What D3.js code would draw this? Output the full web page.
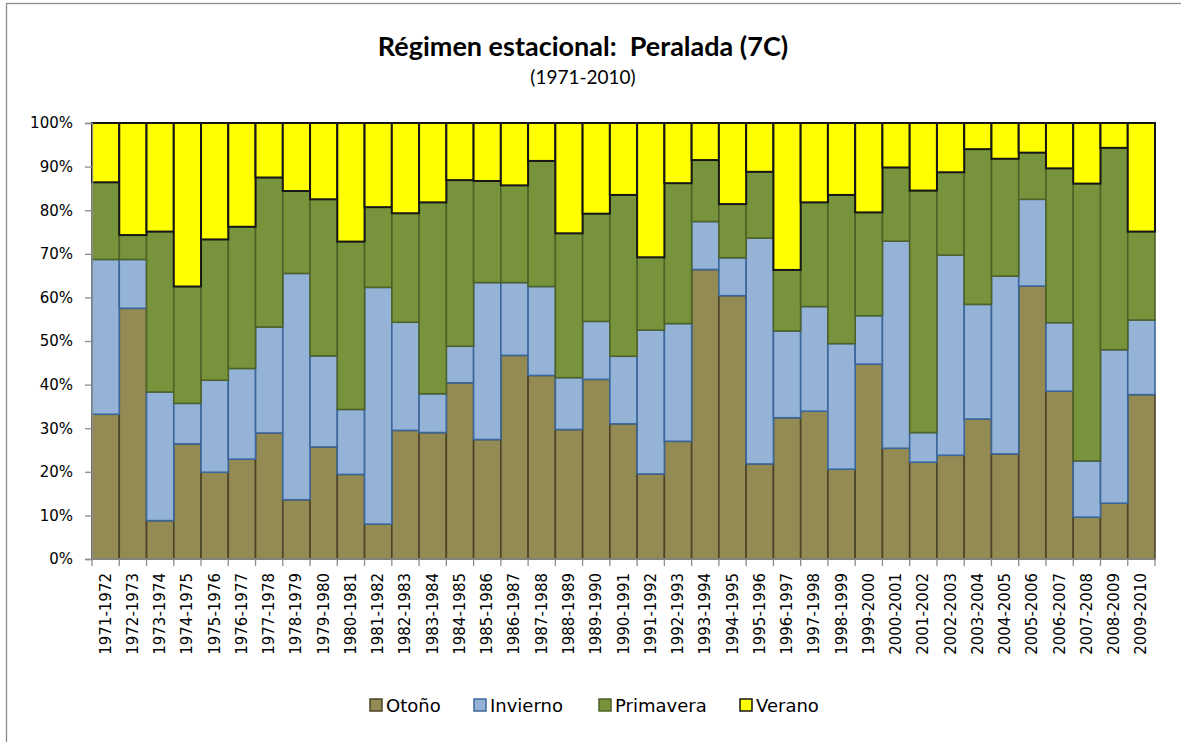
<!DOCTYPE html>
<html>
<head>
<meta charset="utf-8">
<script src="https://cdn.jsdelivr.net/npm/d3@7"></script>
<style>
  html, body { margin: 0; padding: 0; background: #ffffff; }
  svg { display: block; }
</style>
</head>
<body>
<svg id="chart" width="1181" height="742"></svg>
<script>
// Hydrological years
const years = [
  "1971-1972","1972-1973","1973-1974","1974-1975","1975-1976","1976-1977","1977-1978",
  "1978-1979","1979-1980","1980-1981","1981-1982","1982-1983","1983-1984","1984-1985",
  "1985-1986","1986-1987","1987-1988","1988-1989","1989-1990","1990-1991","1991-1992",
  "1992-1993","1993-1994","1994-1995","1995-1996","1996-1997","1997-1998","1998-1999",
  "1999-2000","2000-2001","2001-2002","2002-2003","2003-2004","2004-2005","2005-2006",
  "2006-2007","2007-2008","2008-2009","2009-2010"
];

// Share of yearly precipitation by season (%)
const otono = [
  33.2, 57.5, 8.8, 26.4, 19.9, 22.9, 28.9, 13.6, 25.7, 19.4,
  8.0, 29.5, 29.0, 40.4, 27.4, 46.7, 42.1, 29.7, 41.2, 31.0,
  19.5, 27.0, 66.4, 60.4, 21.8, 32.4, 33.9, 20.6, 44.7, 25.4,
  22.2, 23.8, 32.1, 24.1, 62.6, 38.5, 9.6, 12.8, 37.7
];
const invierno = [
  35.5, 11.2, 29.5, 9.3, 21.1, 20.8, 24.3, 51.9, 20.9, 14.9,
  54.3, 24.8, 8.9, 8.4, 36.0, 16.7, 20.4, 11.9, 13.3, 15.5,
  33.0, 27.0, 11.0, 8.7, 51.8, 19.9, 24.0, 28.8, 11.1, 47.5,
  6.8, 45.9, 26.3, 40.8, 19.9, 15.7, 12.9, 35.2, 17.1
];
const primavera = [
  17.7, 5.6, 36.8, 26.8, 32.3, 32.5, 34.3, 18.9, 35.9, 38.5,
  18.4, 25.0, 43.9, 38.1, 23.3, 22.3, 28.8, 33.1, 24.7, 37.0,
  16.7, 32.2, 14.1, 12.3, 15.2, 14.0, 23.9, 34.1, 23.7, 16.9,
  55.5, 19.0, 35.6, 26.9, 10.7, 35.4, 63.6, 46.3, 20.3
];
const verano = [
  13.6, 25.7, 24.9, 37.5, 26.7, 23.8, 12.5, 15.6, 17.5, 27.2,
  19.3, 20.7, 18.2, 13.1, 13.3, 14.3, 8.7, 25.3, 20.8, 16.5,
  30.8, 13.8, 8.5, 18.6, 11.2, 33.7, 18.2, 16.5, 20.5, 10.2,
  15.5, 11.3, 6.0, 8.2, 6.8, 10.4, 13.9, 5.7, 24.9
];

const seasons = ["Otoño", "Invierno", "Primavera", "Verano"];
const yTicks = [0, 0.1, 0.2, 0.3, 0.4, 0.5, 0.6, 0.7, 0.8, 0.9, 1];

const fills   = ["#948A54", "#95B3D7", "#77933C", "#FFFF00"];
const strokes = ["#4A4528", "#3B679C", "#4F6228", "#161616"];

const rows = years.map((y, i) => ({
  year: y,
  "Otoño": otono[i],
  "Invierno": invierno[i],
  "Primavera": primavera[i],
  "Verano": verano[i]
}));

const svg = d3.select("#chart");
const W = 1181, H = 742;
const plot = { left: 92, right: 1155, top: 123, bottom: 559 };

// Outer chart frame
svg.append("rect")
  .attr("x", 6.5).attr("y", 3.5)
  .attr("width", W + 10).attr("height", H + 10)
  .attr("fill", "#ffffff")
  .attr("stroke", "#8c8c8c").attr("stroke-width", 1.3);

const x = d3.scaleBand().domain(years).range([plot.left, plot.right]).paddingInner(0).paddingOuter(0);
const y = d3.scaleLinear().domain([0, 1]).range([plot.bottom, plot.top]);

const stacked = d3.stack().keys(seasons).offset(d3.stackOffsetExpand)(rows);

const layers = svg.append("g").selectAll("g")
  .data(stacked)
  .join("g")
  .attr("fill", (d, i) => fills[i])
  .attr("stroke", (d, i) => strokes[i])
  .attr("stroke-width", (d, i) => i === 3 ? 2 : 1.6);

layers.selectAll("rect")
  .data(d => d)
  .join("rect")
  .attr("x", d => x(d.data.year))
  .attr("width", x.bandwidth())
  .attr("y", d => y(d[1]))
  .attr("height", d => y(d[0]) - y(d[1]));

// Y axis
const yAxis = d3.axisLeft(y)
  .tickValues(yTicks)
  .tickFormat(d3.format(".0%"))
  .tickSize(7)
  .tickPadding(12);

const gy = svg.append("g")
  .attr("transform", `translate(${plot.left},0)`)
  .call(yAxis);
gy.select(".domain").attr("stroke", "#8c8c8c").attr("stroke-width", 1.3);
gy.selectAll(".tick line").attr("stroke", "#8c8c8c").attr("stroke-width", 1.3);
gy.selectAll(".tick text")
  .attr("fill", "#000")
  .style("font-family", "'DejaVu Sans', sans-serif")
  .style("font-size", "15px");

// X axis: ticks sit on the band boundaries
const gx = svg.append("g")
  .attr("transform", `translate(0,${plot.bottom})`);
gx.append("line")
  .attr("x1", plot.left).attr("x2", plot.right)
  .attr("stroke", "#8c8c8c").attr("stroke-width", 1.3);
const bounds = years.map(d => x(d)).concat([x(years[years.length - 1]) + x.bandwidth()]);
gx.selectAll("line.tk")
  .data(bounds)
  .join("line")
  .attr("class", "tk")
  .attr("x1", d => d).attr("x2", d => d)
  .attr("y1", 0).attr("y2", 7)
  .attr("stroke", "#8c8c8c").attr("stroke-width", 1.3);
gx.selectAll("text")
  .data(years)
  .join("text")
  .attr("transform", d => `translate(${x(d) + x.bandwidth() / 2 + 5},14) rotate(-90)`)
  .attr("text-anchor", "end")
  .style("font-family", "'DejaVu Sans', sans-serif")
  .style("font-size", "15px")
  .attr("fill", "#000")
  .text(d => d);

// Titles
svg.append("text")
  .attr("x", 583).attr("y", 56)
  .attr("text-anchor", "middle")
  .style("font-family", "Lato, 'Open Sans', sans-serif")
  .style("font-weight", "bold")
  .style("font-size", "27px")
  .attr("fill", "#000")
  .attr("xml:space", "preserve")
  .text("Régimen estacional:  Peralada (7C)");

svg.append("text")
  .attr("x", 583).attr("y", 84)
  .attr("text-anchor", "middle")
  .style("font-family", "Lato, 'Open Sans', sans-serif")
  .style("font-size", "19px")
  .attr("fill", "#000")
  .text("(1971-2010)");

// Legend
const legendX = [370, 474, 599, 740];
const lg = svg.append("g").selectAll("g")
  .data(seasons)
  .join("g")
  .attr("transform", (d, i) => `translate(${legendX[i]},699)`);
lg.append("rect")
  .attr("width", 12).attr("height", 12)
  .attr("fill", (d, i) => fills[i])
  .attr("stroke", (d, i) => strokes[i])
  .attr("stroke-width", 1.5);
lg.append("text")
  .attr("x", 16).attr("y", 12.5)
  .style("font-family", "'DejaVu Sans', sans-serif")
  .style("font-size", "18px")
  .attr("fill", "#000")
  .text(d => d);
</script>
</body>
</html>
